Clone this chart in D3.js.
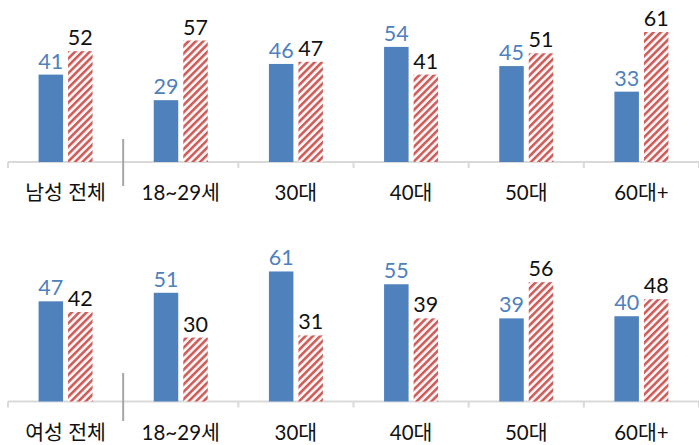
<!DOCTYPE html>
<html>
<head>
<meta charset="utf-8">
<script src="https://cdn.jsdelivr.net/npm/d3@7"></script>
<style>
  html, body { margin: 0; padding: 0; background: #fff; }
  svg { display: block; }
</style>
</head>
<body>
<svg id="chart" width="699" height="445"></svg>
<script>
// ---- data ----
const menCategories = ["남성 전체", "18~29세", "30대", "40대", "50대", "60대+"];
const womenCategories = ["여성 전체", "18~29세", "30대", "40대", "50대", "60대+"];
const seriesNames = ["blue", "red"];
const menBlue = [41, 29, 46, 54, 45, 33];
const menRed = [52, 57, 47, 41, 51, 61];
const womenBlue = [47, 51, 61, 55, 39, 40];
const womenRed = [42, 30, 31, 39, 56, 48];

const svg = d3.select("#chart");
const defs = svg.append("defs");
const pat = defs.append("pattern")
  .attr("id", "hatch")
  .attr("patternUnits", "userSpaceOnUse")
  .attr("width", 5.2).attr("height", 5.2)
  .attr("patternTransform", "rotate(45)");
pat.append("rect").attr("width", 5.2).attr("height", 5.2).attr("fill", "#fdf3f3");
pat.append("rect").attr("width", 2.5).attr("height", 5.2).attr("fill", "#cd5c59");

const blue = "#4f81bd";
const valueFont = "Lato, 'Noto Sans CJK KR', sans-serif";
const catFont = "Lato, 'Noto Sans CJK KR', sans-serif";

function panel(categories, blueVals, redVals, baseY, sepTop, sepBottom) {
  const g = svg.append("g");
  const x = d3.scaleBand().domain(categories).range([8, 699]).padding(0);
  const inner = d3.scaleBand().domain(seriesNames).range([-27, 27]).paddingInner(0.17);
  const y = d3.scaleLinear().domain([0, 76]).range([baseY, baseY - 162]);

  g.append("line").attr("x1", 8).attr("x2", 699).attr("y1", baseY).attr("y2", baseY)
    .attr("stroke", "#d9d9d9").attr("stroke-width", 2);
  // tick marks at band boundaries
  const bounds = categories.map(c => x(c)).concat([699]);
  bounds.forEach((bx, i) => {
    if (i === 1) return;
    g.append("line").attr("x1", bx).attr("x2", bx).attr("y1", baseY).attr("y2", baseY + 6)
      .attr("stroke", "#d9d9d9").attr("stroke-width", 2);
  });
  // separator
  const sx = x(categories[1]);
  g.append("line").attr("x1", sx).attr("x2", sx).attr("y1", baseY + sepTop).attr("y2", baseY + sepBottom)
    .attr("stroke", "#a6a6a6").attr("stroke-width", 2);

  const rows = categories.map((c, i) => ({ c, blue: blueVals[i], red: redVals[i] }));
  const cx = c => x(c) + x.bandwidth() / 2;

  rows.forEach(r => {
    seriesNames.forEach(s => {
      const v = r[s];
      const bx = cx(r.c) + inner(s);
      g.append("rect")
        .attr("x", bx).attr("width", inner.bandwidth())
        .attr("y", y(v)).attr("height", baseY - y(v))
        .attr("fill", s === "blue" ? blue : "url(#hatch)");
      g.append("text")
        .attr("x", bx + inner.bandwidth() / 2)
        .attr("y", y(v) - 6)
        .attr("text-anchor", "middle")
        .attr("font-family", valueFont)
        .attr("font-size", 21.5)
        .attr("fill", s === "blue" ? blue : "#111")
        .text(v);
    });
    g.append("text")
      .attr("x", cx(r.c))
      .attr("y", baseY + 38)
      .attr("text-anchor", "middle")
      .attr("font-family", catFont)
      .attr("font-size", 20.5)
      .attr("fill", "#111")
      .text(r.c);
  });
}

panel(menCategories, menBlue, menRed, 162, -23, 24);
panel(womenCategories, womenBlue, womenRed, 401.5, -28.5, 19.5);
</script>
</body>
</html>
